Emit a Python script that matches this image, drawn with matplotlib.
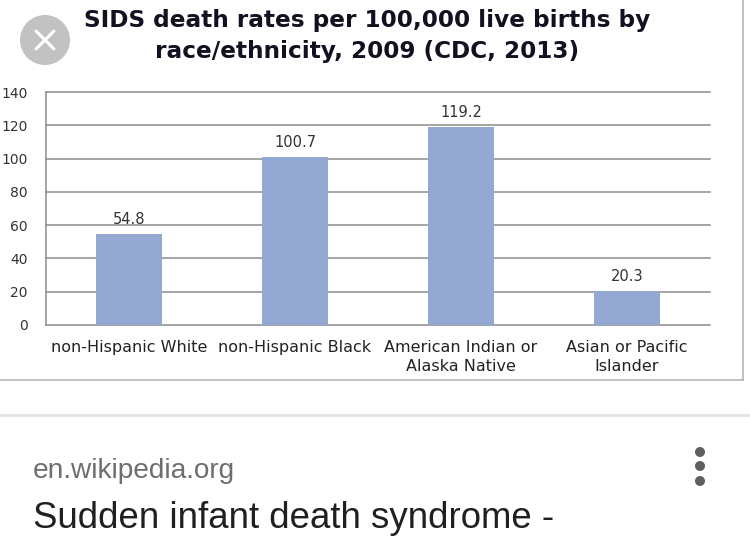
import matplotlib
matplotlib.use("Agg")
import matplotlib.pyplot as plt
from matplotlib.patches import Circle

# ---- data ----
categories = ["non-Hispanic White", "non-Hispanic Black",
              "American Indian or\nAlaska Native", "Asian or Pacific\nIslander"]
rates = [54.8, 100.7, 119.2, 20.3]
value_labels = ["54.8", "100.7", "119.2", "20.3"]
yticks = [0, 20, 40, 60, 80, 100, 120, 140]
title_lines = ["SIDS death rates per 100,000 live births by",
               "race/ethnicity, 2009 (CDC, 2013)"]
source_text = "en.wikipedia.org"
page_title = "Sudden infant death syndrome -"

W, H = 750, 543
fig = plt.figure(figsize=(W / 100, H / 100), dpi=100)
fig.patch.set_facecolor("white")

# overlay in pixel coordinates (y downward)
bg = fig.add_axes([0, 0, 1, 1])
bg.set_xlim(0, W)
bg.set_ylim(H, 0)
bg.axis("off")

# close icon
bg.add_patch(Circle((45, 40), 25, color="#c2c2c2", lw=0))
d = 9
bg.plot([45 - d, 45 + d], [40 - d, 40 + d], color="white", lw=2.2, solid_capstyle="round")
bg.plot([45 - d, 45 + d], [40 + d, 40 - d], color="white", lw=2.2, solid_capstyle="round")

# title
bg.text(367, 27, title_lines[0], ha="center", va="baseline", fontsize=16.7,
        fontweight="bold", family="DejaVu Sans", color="#111122")
bg.text(367, 58, title_lines[1], ha="center", va="baseline", fontsize=16.7,
        fontweight="bold", family="DejaVu Sans", color="#111122")

# chart frame border
bg.plot([743, 743], [0, 380], color="#b0b0b0", lw=1.1)
bg.plot([0, 743], [380, 380], color="#b0b0b0", lw=1.1)

# card separator
bg.plot([0, W], [415, 415], color="#e6e6e6", lw=2.2)

# source / title text
bg.text(33, 478, source_text, ha="left", va="baseline", fontsize=20.2,
        family="Liberation Sans", color="#6e6e6e")
bg.text(33, 528, page_title, ha="left", va="baseline", fontsize=26.4,
        family="Liberation Sans", color="#202020")

# three dots
for yy in (452, 466, 481):
    bg.add_patch(Circle((700, yy), 5, color="#5f5f5f", lw=0))

# ---- chart ----
left, right, top, bottom = 46, 710, 92, 325
ax = fig.add_axes([left / W, 1 - bottom / H, (right - left) / W, (bottom - top) / H])
x = list(range(len(categories)))
bars = ax.bar(x, rates, width=0.4, color="#94a9d1", zorder=3)
ax.bar_label(bars, labels=value_labels, padding=5, fontsize=10.5,
             family="DejaVu Sans", color="#333333")
ax.set_xlim(-0.5, len(categories) - 0.5)
ax.set_ylim(0, 140)
ax.set_yticks(yticks)
ax.set_yticklabels([str(v) for v in yticks], fontsize=10, color="#333333")
ax.set_xticks(x)
ax.set_xticklabels(categories, fontsize=11.5, color="#222222", linespacing=1.35)
ax.tick_params(axis="y", length=0, pad=13)
ax.tick_params(axis="x", length=0, pad=10.5)
ax.yaxis.grid(True, color="#8c8c8c", lw=1.1, zorder=1)
for g in ax.get_ygridlines():
    g.set_clip_on(False)
for s in ("top", "right", "bottom"):
    ax.spines[s].set_visible(False)
ax.spines["left"].set_color("#8c8c8c")
ax.spines["left"].set_linewidth(1.1)
ax.set_facecolor("none")

fig.savefig("out.png", dpi=100, facecolor="white")
